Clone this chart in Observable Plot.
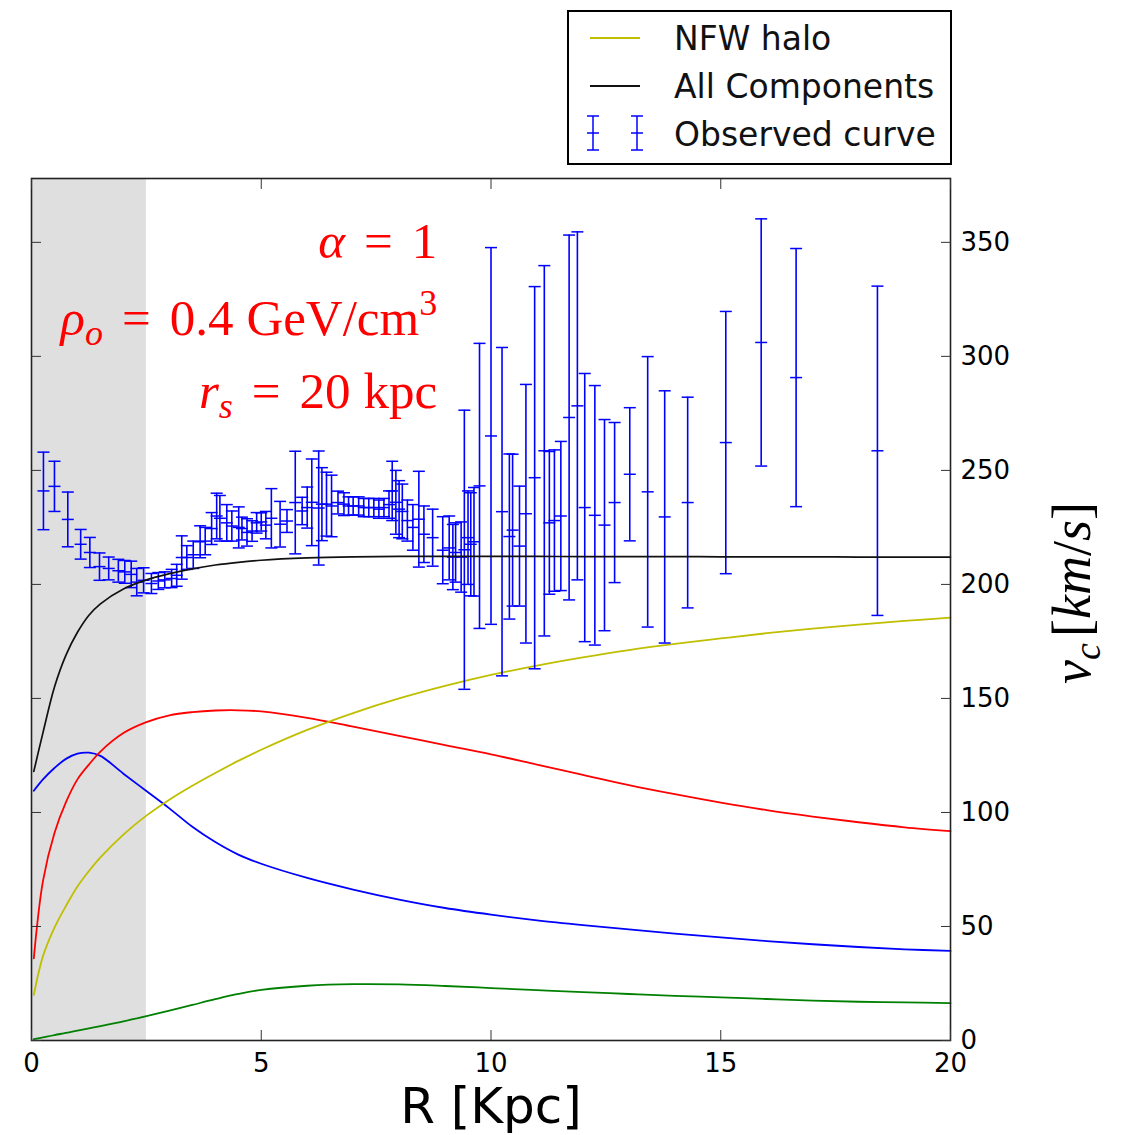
<!DOCTYPE html>
<html><head><meta charset="utf-8">
<script src="https://cdn.jsdelivr.net/npm/d3@7"></script>
<script src="https://cdn.jsdelivr.net/npm/@observablehq/plot@0.6"></script>
<style>
body{margin:0;background:#fff;}
#wrap{position:relative;width:1121px;height:1135px;overflow:hidden;}
#legend{position:absolute;left:567px;top:10px;width:385px;height:155px;border:2px solid #000;box-sizing:border-box;background:#fff;}
#chart{position:absolute;left:0;top:170px;}
</style></head><body>
<div id="wrap"><div id="legend"></div><div id="chart"></div></div>
<script>
// ---- data ----
const xDomain = [0, 20];
const yDomain = [0, 378];
const xTicks = [0, 5, 10, 15, 20];
const yTicks = [0, 50, 100, 150, 200, 250, 300, 350];
const shadedRange = [0, 2.5];

const curveR = [0.05,0.25,0.5,0.75,1,1.25,1.5,2,2.5,3,3.5,4,4.5,5,6,7,8,9,10,11,12,13,14,15,16,17,18,19,20];
const nfwHalo = [20,37,49.5,59,67.5,74.3,80.3,90.3,98.6,105.6,111.7,117.3,122.6,127.5,136.2,143.6,150,155.5,160.3,164.4,168,171.2,173.9,176.3,178.6,180.6,182.4,184,185.4];
const allComponents = [118,135,155,169,179,186.5,191.5,198,202,204.7,206.8,208.5,209.7,210.6,211.6,212.1,212.3,212.3,212.3,212.3,212.2,212.2,212.2,212.1,212.1,212.1,212,212,212];
const redComponent = [36,70,91,104.5,114.5,121,126.7,134.8,139.6,142.6,144,144.7,144.8,144.3,141.5,137.6,133.6,129.5,125.5,121,116.5,112,108,104.3,101,98.2,95.7,93.5,91.8];
const blueComponent = [109.5,114.5,119.5,123.5,125.8,126.2,124.8,117,109.4,101.8,93.7,87,81.5,77.5,71.3,66.2,61.8,58.1,55.2,52.7,50.6,48.7,46.9,45.2,43.6,42.2,41,40,39.3];
const greenComponent = [0.6,1.4,2.4,3.3,4.3,5.3,6.3,8.4,10.7,13.1,15.6,18.1,20.4,22.2,24,24.7,24.6,23.9,23,22.1,21.2,20.4,19.6,18.9,18.2,17.5,17,16.7,16.4];

const obsR = [0.26,0.50,0.79,1.07,1.27,1.48,1.68,1.89,2.03,2.17,2.29,2.44,2.61,2.76,2.90,3.05,3.16,3.27,3.38,3.52,3.67,3.78,3.92,4.03,4.10,4.25,4.36,4.51,4.58,4.69,4.80,4.90,5.00,5.10,5.22,5.41,5.56,5.74,5.89,6.00,6.10,6.25,6.32,6.42,6.53,6.67,6.80,6.90,7.00,7.12,7.23,7.34,7.45,7.56,7.67,7.78,7.85,7.93,8.00,8.07,8.18,8.30,8.43,8.54,8.73,8.95,9.09,9.17,9.23,9.35,9.42,9.50,9.56,9.63,9.75,10.00,10.24,10.40,10.47,10.62,10.76,10.95,11.16,11.27,11.38,11.52,11.70,11.88,12.04,12.26,12.47,12.69,13.02,13.41,13.78,14.28,15.11,15.88,16.64,18.41];
const obsV = [241,243,228.5,217.6,214,207.8,207,206,205.5,204.4,201,201.8,200.4,201.5,202,202.6,204,211.8,211.8,213,218.7,219,224.5,230,229,227,225.6,225,224.5,222.8,223.4,227,227.4,226,229,226.4,227.8,235.9,232.2,233.7,236,233.5,235.2,235.2,234.4,235.9,235.2,234.4,234.4,234.4,233.7,233.7,233.7,233,233.7,235,241,236,233,232,228,225,228.6,222,220.5,215,216,212,214,212,215.2,220.5,217.6,218.7,243.2,265.1,231.9,221,223.8,216.8,231,246.8,258.6,227,228,230,273.2,278.3,233.7,230.3,226,235.9,248.3,240.6,229.6,235.9,262.2,306.1,290.7,258.6];
const obsErr = [17,11,12,6.5,6.6,6,5,5,5,5.8,6,5.5,4.4,3.7,3.5,4,4.8,9.5,5.2,6,7,6,7,10,10,8,6.6,9,5,6,4.5,4.5,4,6,13,10,5,22.5,6,9,19,25,16,14,13.5,5,5,4,4,4,4,4,4,4,4,6,13,14,12.5,12,9,10,21,12.4,12.5,14.7,14,14.3,13,15.4,61.2,20.5,22.6,23.8,62.5,82.6,72,36.2,33.3,26.3,56.7,83.8,81.2,31.3,31,32.7,80,76.3,58.8,56.9,46.3,35.1,29.2,59.3,55.3,46.2,57.5,54.2,56.6,72.2];

const legendLabels = ["NFW halo", "All Components", "Observed curve"];
const xLabel = "R [Kpc]";
const annoX = 8.84;
const annoY = [342.8, 309, 277];

// ---- build ----
const lineData = vals => curveR.map((r, i) => ({r, v: vals[i]}));
const obs = obsR.map((r, i) => ({r, v: obsV[i], e: obsErr[i]}));
const shade = [{x1: shadedRange[0], x2: shadedRange[1], y1: yDomain[0], y2: yDomain[1]}];
const cap = {draw(ctx, size) { const w = Math.sqrt(size / Math.PI); ctx.moveTo(-w, 0); ctx.lineTo(w, 0); }};
const BLUE = "#0000ff", YEL = "#bfbf00";
const CURVE = "catmull-rom";

const chart = Plot.plot({
  width: 1121, height: 965,
  marginTop: 8, marginBottom: 95, marginLeft: 31, marginRight: 171,
  x: {domain: xDomain}, y: {domain: yDomain},
  style: {background: "transparent", color: "#000", fontFamily: "'DejaVu Sans', sans-serif", overflow: "visible"},
  marks: [
    Plot.rect(shade, {x1: "x1", x2: "x2", y1: "y1", y2: "y2", fill: "#dfdfdf"}),
    Plot.line(lineData(greenComponent), {x: "r", y: "v", stroke: "#008000", strokeWidth: 1.8, curve: CURVE}),
    Plot.line(lineData(blueComponent), {x: "r", y: "v", stroke: BLUE, strokeWidth: 1.8, curve: CURVE}),
    Plot.line(lineData(redComponent), {x: "r", y: "v", stroke: "#ff0000", strokeWidth: 1.8, curve: CURVE}),
    Plot.line(lineData(nfwHalo), {x: "r", y: "v", stroke: YEL, strokeWidth: 1.8, curve: CURVE}),
    Plot.ruleX(obs, {x: "r", y1: d => d.v - d.e, y2: d => d.v + d.e, stroke: BLUE, strokeWidth: 1.6}),
    Plot.dot(obs, {x: "r", y: d => d.v + d.e, symbol: cap, r: 6, stroke: BLUE, fill: "none", strokeWidth: 1.5}),
    Plot.dot(obs, {x: "r", y: d => d.v - d.e, symbol: cap, r: 6, stroke: BLUE, fill: "none", strokeWidth: 1.5}),
    Plot.dot(obs, {x: "r", y: "v", symbol: cap, r: 6, stroke: BLUE, fill: "none", strokeWidth: 1.5}),
    Plot.line(lineData(allComponents), {x: "r", y: "v", stroke: "#111", strokeWidth: 1.7, curve: CURVE}),
    Plot.frame({stroke: "#222", strokeWidth: 1.6}),
    Plot.axisX({anchor: "bottom", ticks: xTicks, tickSize: 0, tickPadding: 13, fontSize: 26, label: null}),
    Plot.axisX({anchor: "bottom", ticks: xTicks, tickSize: -10, tickFormat: () => "", label: null, stroke: "#333"}),
    Plot.axisX({anchor: "top", ticks: xTicks, tickSize: -10, tickFormat: () => "", label: null, stroke: "#333"}),
    Plot.axisY({anchor: "right", ticks: yTicks, tickSize: 0, tickPadding: 10, fontSize: 26, label: null}),
    Plot.axisY({anchor: "right", ticks: yTicks, tickSize: -10, tickFormat: () => "", label: null, stroke: "#333"}),
    Plot.axisY({anchor: "left", ticks: yTicks, tickSize: -10, tickFormat: () => "", label: null, stroke: "#333"}),
    Plot.text([xLabel], {frameAnchor: "bottom", dy: 82, text: d => d, fontSize: 50, lineAnchor: "bottom"})
  ]
});
document.getElementById("chart").appendChild(chart);

// ---- annotations ----
const svg = d3.select(chart);
const sx = chart.scale("x"), sy = chart.scale("y");
const serif = "'Liberation Serif', 'DejaVu Serif', serif";
const ax = sx.apply(annoX);
const g = svg.append("g").attr("font-family", serif).attr("fill", "#ff0000").attr("font-size", 51).attr("text-anchor", "end");
const t1 = g.append("text").attr("x", ax).attr("y", sy.apply(annoY[0]));
t1.append("tspan").attr("font-style", "italic").text("α");
t1.append("tspan").attr("dx", 19).text("=");
t1.append("tspan").attr("dx", 19).text("1");
const t2 = g.append("text").attr("x", ax).attr("y", sy.apply(annoY[1]));
t2.append("tspan").attr("font-style", "italic").text("ρ");
t2.append("tspan").attr("font-style", "italic").attr("font-size", 36).attr("dy", 10).text("o");
t2.append("tspan").attr("dy", -10).attr("dx", 19).text("=");
t2.append("tspan").attr("dx", 19).text("0.4");
t2.append("tspan").attr("dx", 13).text("GeV/cm");
t2.append("tspan").attr("font-size", 36).attr("dy", -20).text("3");
const t3 = g.append("text").attr("x", ax).attr("y", sy.apply(annoY[2]));
t3.append("tspan").attr("font-style", "italic").text("r");
t3.append("tspan").attr("font-style", "italic").attr("font-size", 36).attr("dy", 10).text("s");
t3.append("tspan").attr("dy", -10).attr("dx", 19).text("=");
t3.append("tspan").attr("dx", 19).text("20");
t3.append("tspan").attr("dx", 13).text("kpc");

const yl = svg.append("text").attr("font-family", serif).attr("font-size", 54).attr("fill", "#000")
  .attr("text-anchor", "middle").attr("transform", "translate(1090,423) rotate(-90)");
yl.append("tspan").attr("font-style", "italic").text("v");
yl.append("tspan").attr("font-style", "italic").attr("font-size", 38).attr("dy", 10).text("c");
yl.append("tspan").attr("dy", -10).attr("dx", 6).text("[");
yl.append("tspan").attr("font-style", "italic").text("km");
yl.append("tspan").text("/");
yl.append("tspan").attr("font-style", "italic").text("s");
yl.append("tspan").text("]");

// ---- legend ----
const lg = d3.select("#legend").append("svg").attr("width", 381).attr("height", 151)
  .attr("font-family", "'DejaVu Sans', sans-serif").attr("font-size", 33);
lg.append("line").attr("x1", 21).attr("x2", 71).attr("y1", 26).attr("y2", 26).attr("stroke", YEL).attr("stroke-width", 2);
lg.append("line").attr("x1", 21).attr("x2", 71).attr("y1", 74).attr("y2", 74).attr("stroke", "#111").attr("stroke-width", 2);
[24, 68].forEach(cx => {
  lg.append("line").attr("x1", cx).attr("x2", cx).attr("y1", 104).attr("y2", 138).attr("stroke", BLUE).attr("stroke-width", 1.5);
  [104, 121, 138].forEach(cy => lg.append("line").attr("x1", cx - 6).attr("x2", cx + 6).attr("y1", cy).attr("y2", cy).attr("stroke", BLUE).attr("stroke-width", 1.5));
});
legendLabels.forEach((t, i) => lg.append("text").attr("x", 105).attr("y", 38 + i * 48).attr("fill", "#111").text(t));
</script>
</body></html>
